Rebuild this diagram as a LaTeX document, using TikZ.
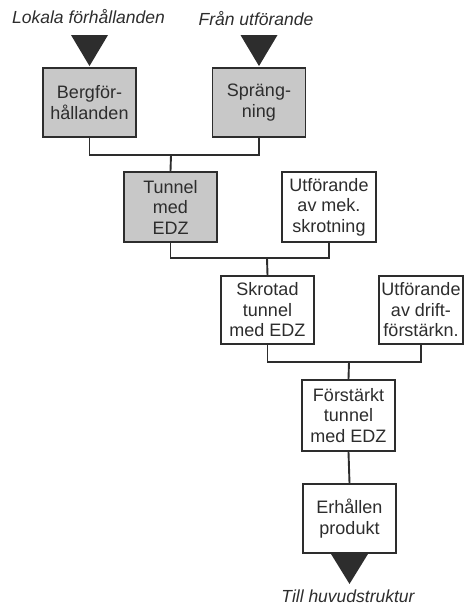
\documentclass[tikz,border=0pt]{standalone}
\usepackage{fontspec}
\setmainfont{Liberation Sans}
\definecolor{boxgray}{RGB}{200,200,200}
\definecolor{txtgray}{RGB}{45,45,45}
\tikzset{
  blk/.style={draw=txtgray, line width=1.9pt, fill=white, align=center, inner sep=0pt, text=txtgray,
    minimum width=93pt, minimum height=69pt, font=\fontsize{18}{20.5}\selectfont},
  grayblk/.style={blk, fill=boxgray},
  lnk/.style={draw=txtgray, line width=1.9pt},
  lbl/.style={font=\fontsize{17.5}{20.5}\selectfont\itshape, anchor=base, text=txtgray}
}
\begin{document}
\begin{tikzpicture}[x=1pt, y=-1pt]
                \useasboundingbox (0,0) rectangle (472,606);
                \node[grayblk] (berg) at (89.5,102.5) {Bergför-\\hållanden};
                \node[grayblk] (spr) at (259,102.5) {Spräng-\\ning};
                \node[grayblk, minimum height=70pt] (tunnel) at (170.5,207) {Tunnel\\med\\EDZ};
                \node[blk, minimum width=94pt, minimum height=70pt] (mek) at (329,207) {Utförande\\av mek.\\skrotning};
                \node[blk, minimum height=68pt] (skrot) at (267.5,310) {Skrotad\\tunnel\\med EDZ};
                \node[blk, minimum width=84pt, minimum height=68pt] (drift) at (421,310) {Utförande\\av drift-\\förstärkn.};
                \node[blk, minimum height=71pt] (forst) at (348.5,415.5) {Förstärkt\\tunnel\\med EDZ};
                \node[blk] (prod) at (349.5,518.5) {Erhållen\\produkt};
                \node[lbl] (lokal) at (88.5,23) {Lokala förhållanden};
                \node[lbl] (fran) at (256,25) {Från utförande};
                \node[lbl] (till) at (348,602) {Till huvudstruktur};
                \coordinate (j1) at (171,155);
                \coordinate (j2) at (267,258);
                \coordinate (j3) at (349,362);
                \draw[lnk] (berg.south) |- (j1) -| (spr.south);
                \draw[lnk] (j1) -- (tunnel.north);
                \draw[lnk] (tunnel.south) |- (j2) -| (mek.south);
                \draw[lnk] (j2) -- (skrot.north);
                \draw[lnk] (skrot.south) |- (j3) -| (drift.south);
                \draw[lnk] (j3) -- (forst.north);
                \draw[lnk] (forst.south) -- (prod.north);
                \fill[txtgray] (berg.north) ++(0,-1) -- ++(-18.5,-31) -- ++(37,0) -- cycle;
                \fill[txtgray] (spr.north) ++(0,-1) -- ++(-18.5,-31) -- ++(37,0) -- cycle;
                \fill[txtgray] (prod.south) ++(-18.5,0) -- ++(37,0) -- ++(-18.5,30) -- cycle;
\end{tikzpicture}
\end{document}
